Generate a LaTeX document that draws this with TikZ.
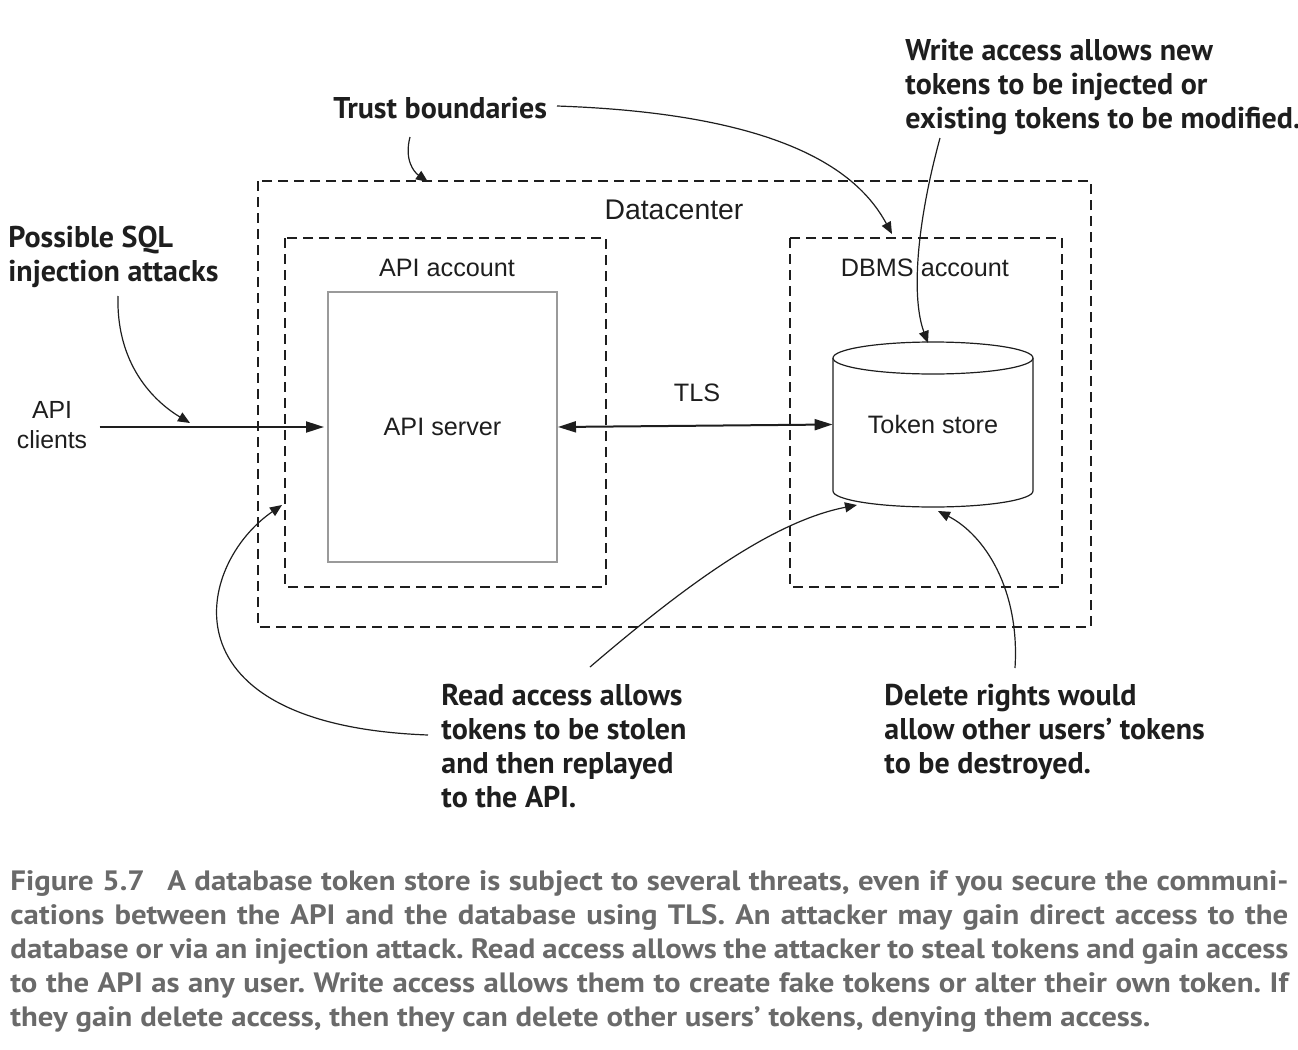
\documentclass[tikz,border=0pt]{standalone}
\usepackage{fontspec}
\usepackage{xcolor}
\usepackage{tikz}
\usetikzlibrary{arrows.meta}
\setmainfont{Liberation Sans}
\newfontfamily\notefont{PT Sans}
\newfontfamily\capfont{PT Sans}[FakeStretch=1.1]
\definecolor{ink}{HTML}{1E1E1E}
\definecolor{boxline}{HTML}{9A9A9A}
\definecolor{capgray}{HTML}{6A6A6A}
\frenchspacing

\begin{document}
\begin{tikzpicture}[x=0.5pt, y=-0.5pt,
    every node/.style={inner sep=0pt, text=ink},
    label/.style={font=\fontsize{12.6}{15}\selectfont},
    note/.style={font=\notefont\bfseries\fontsize{15}{17}\selectfont, align=left, anchor=north west},
    trust/.style={draw=ink, line width=1pt, dash pattern=on 5pt off 3pt},
    flow/.style={draw=ink, line width=1pt, -{Triangle[length=9pt, width=5.5pt]}},
    callout/.style={draw=ink, line width=0.6pt, -{Triangle[length=6pt, width=5pt]}}]
            \useasboundingbox (0,0) rectangle (1298,1050);

            % Trust boundaries
            \draw[trust] (258,181) rectangle (1091,627);
            \draw[trust] (285,238) rectangle (606,587);
            \draw[trust] (790,238) rectangle (1062,587);
            \node[font=\fontsize{14.2}{16}\selectfont] (datacenter) at (674,210) {Datacenter};
            \node[label] (apiacct) at (447,268) {API account};
            \node[label] (dbmsacct) at (925,268) {DBMS account};

            % API server
            \node[label, draw=boxline, line width=1pt, fill=white, minimum width=114.5pt, minimum height=135pt] (apiserver) at (442.5,427) {API server};

            % Token store (cylinder)
            \draw[draw=ink, line width=0.6pt, fill=white] (833,358) -- (833,491)
                arc[start angle=180, end angle=0, x radius=100, y radius=16] -- (1033,358);
            \draw[draw=ink, line width=0.6pt, fill=white] (933,358) ellipse [x radius=100, y radius=16];
            \node[label, minimum width=100pt, minimum height=66.5pt] (store) at (933,424.5) {Token store};

            % Clients and TLS link
            \node[label, align=center, font=\fontsize{12.4}{15}\selectfont] (clients) at (52,425) {API\\clients};
            \node[label] (tls) at (697,393) {TLS};
            \draw[flow] (clients.east) ++(12,2) -- ([xshift=-1.5pt]apiserver.west);
            \draw[flow, {Triangle[length=9pt, width=5.5pt]}-{Triangle[length=9pt, width=5.5pt]}] (apiserver.east) -- (store.west);

            % Callouts
            \node[note] (sql) at (8,226) {Possible SQL\\injection attacks};
            \node[note] (trustnote) at (333,97) {Trust boundaries};
            \node[note] (write) at (905,39) {Write access allows new\\tokens to be injected or\\existing tokens to be modified.};
            \node[note] (read) at (441,684) {Read access allows\\tokens to be stolen\\and then replayed\\to the API.};
            \node[note] (delete) at (884,684) {Delete rights would\\allow other users’ tokens\\to be destroyed.};

            \coordinate (sqlhit) at (190,423);
            \coordinate (dbmshit) at (892,234);
            \coordinate (dchit) at (428,182);
            \coordinate (storetop) at (928,343);
            \coordinate (storebot) at (857,505);
            \coordinate (accthit) at (282,505);
            \coordinate (delhit) at (938,511);

            \draw[callout] (118,296) .. controls (116,370) and (160,405) .. (sqlhit);
            \draw[callout] (557,106) .. controls (790,114) and (860,175) .. (dbmshit);
            \draw[callout] (410,137) .. controls (404,160) and (414,172) .. (dchit);
            \draw[callout] (940,138) .. controls (915,230) and (912,300) .. (storetop);
            \draw[callout] (590,667) .. controls (680,590) and (770,522) .. (storebot);
            \draw[callout] (428,735) .. controls (160,725) and (195,565) .. (accthit);
            \draw[callout] (1015,668) .. controls (1020,590) and (985,535) .. (delhit);

            % Caption
            \node[anchor=north west, text=capgray, align=left, font=\capfont\bfseries\fontsize{14}{17}\selectfont] (caption) at (10,870) {%
                \makebox[639pt][s]{Figure 5.7\hspace{0.8em}A database token store is subject to several threats, even if you secure the communi-}\\
                \makebox[639pt][s]{cations between the API and the database using TLS. An attacker may gain direct access to the}\\
                \makebox[639pt][s]{database or via an injection attack. Read access allows the attacker to steal tokens and gain access}\\
                \makebox[639pt][s]{to the API as any user. Write access allows them to create fake tokens or alter their own token. If}\\
                they gain delete access, then they can delete other users’ tokens, denying them access.};
        \end{tikzpicture}
\end{document}
